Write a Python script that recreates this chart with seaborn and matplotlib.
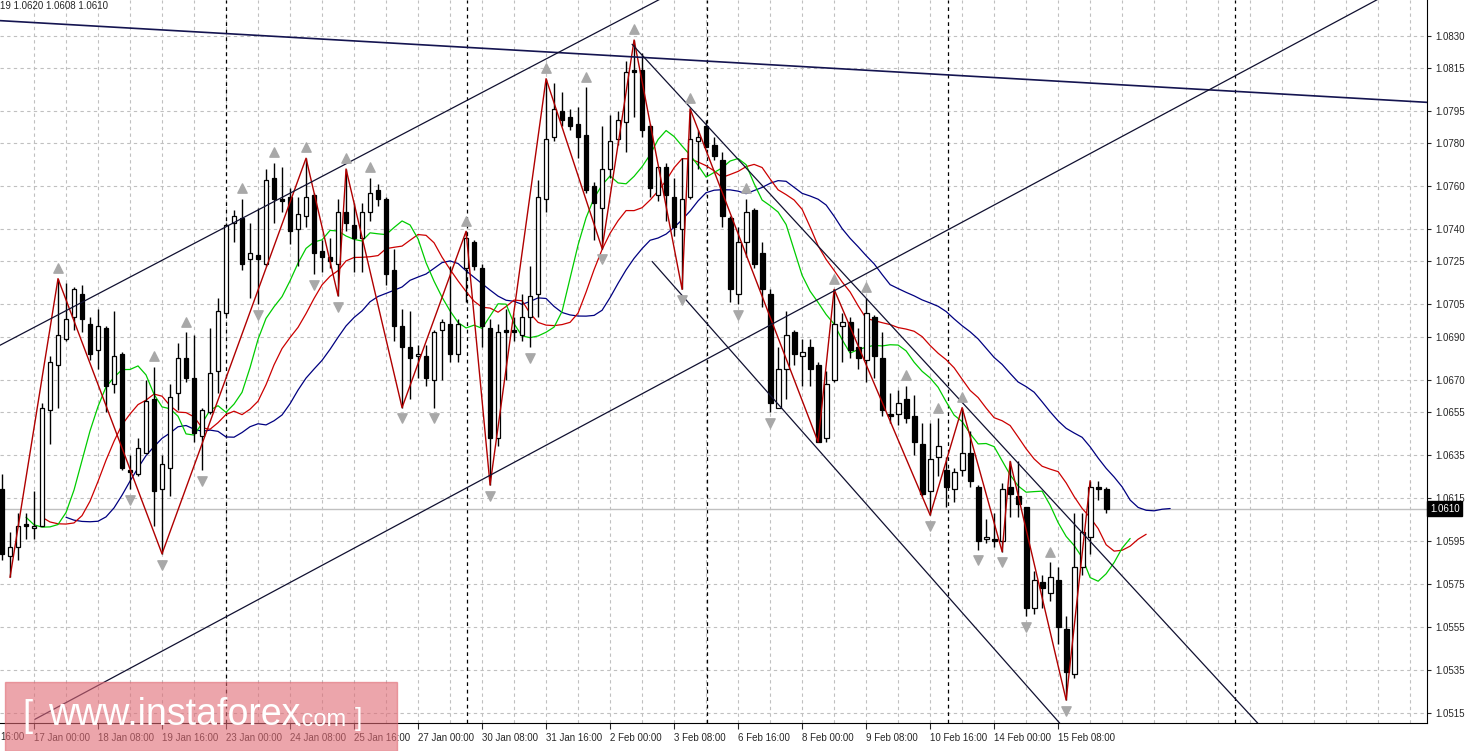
import matplotlib
matplotlib.use("Agg")
import matplotlib.pyplot as plt
import numpy as np
import pandas as pd
import seaborn as sns

# EURUSD H4 candles (bar 0 .. 138)
opens = [1.0619, 1.0588, 1.0592, 1.0603, 1.0601, 1.0602, 1.0656, 1.0677, 1.0689, 1.0699,
         1.0710, 1.0696, 1.0684, 1.0694, 1.0668, 1.0682, 1.0628, 1.0626, 1.0636, 1.0661,
         1.0619, 1.0629, 1.0664, 1.0680, 1.0671, 1.0644, 1.0655, 1.0674, 1.0701, 1.0743,
         1.0745, 1.0726, 1.0728, 1.0724, 1.0764, 1.0754, 1.0755, 1.0740, 1.0746, 1.0756,
         1.0730, 1.0727, 1.0724, 1.0748, 1.0742, 1.0736, 1.0748, 1.0758, 1.0754, 1.0721,
         1.0695, 1.0685, 1.0681, 1.0681, 1.0670, 1.0693, 1.0696, 1.0682, 1.0722, 1.0734,
         1.0722, 1.0694, 1.0643, 1.0693, 1.0693, 1.0691, 1.0699, 1.0710, 1.0754, 1.0783,
         1.0795, 1.0792, 1.0789, 1.0784, 1.0760, 1.0750, 1.0768, 1.0782, 1.0790, 1.0814,
         1.0814, 1.0788, 1.0756, 1.0769, 1.0755, 1.0740, 1.0755, 1.0781, 1.0788, 1.0779,
         1.0772, 1.0745, 1.0710, 1.0734, 1.0749, 1.0729, 1.0710, 1.0657, 1.0675, 1.0692,
         1.0681, 1.0685, 1.0677, 1.0643, 1.0670, 1.0695, 1.0697, 1.0685, 1.0679, 1.0699,
         1.0680, 1.0654, 1.0654, 1.0661, 1.0653, 1.0640, 1.0618, 1.0634, 1.0628, 1.0619,
         1.0628, 1.0636, 1.0620, 1.0596, 1.0596, 1.0595, 1.0620, 1.0616, 1.0611, 1.0564,
         1.0576, 1.0571, 1.0577, 1.0554, 1.0533, 1.0583, 1.0597, 1.0620, 1.0619]
highs = [1.0626, 1.0599, 1.0608, 1.0608, 1.0618, 1.0659, 1.0681, 1.0717, 1.0715, 1.0713,
         1.0714, 1.0699, 1.0703, 1.0695, 1.0702, 1.0683, 1.0635, 1.0643, 1.0670, 1.0676,
         1.0635, 1.0668, 1.0687, 1.0692, 1.0691, 1.0657, 1.0694, 1.0708, 1.0743, 1.0749,
         1.0754, 1.0743, 1.0750, 1.0768, 1.0771, 1.0769, 1.0759, 1.0755, 1.0773, 1.0757,
         1.0735, 1.0736, 1.0754, 1.0768, 1.0752, 1.0752, 1.0764, 1.0761, 1.0755, 1.0731,
         1.0703, 1.0702, 1.0686, 1.0686, 1.0693, 1.0698, 1.0723, 1.0698, 1.0739, 1.0735,
         1.0724, 1.0698, 1.0696, 1.0703, 1.0699, 1.0710, 1.0723, 1.0763, 1.0810, 1.0808,
         1.0804, 1.0796, 1.0797, 1.0806, 1.0762, 1.0788, 1.0793, 1.0795, 1.0818, 1.0828,
         1.0822, 1.0789, 1.0769, 1.0771, 1.0764, 1.0773, 1.0796, 1.0786, 1.0791, 1.0783,
         1.0776, 1.0746, 1.0741, 1.0754, 1.0750, 1.0734, 1.0712, 1.0685, 1.0702, 1.0693,
         1.0689, 1.0689, 1.0678, 1.0674, 1.0712, 1.0701, 1.0699, 1.0694, 1.0708, 1.0700,
         1.0692, 1.0664, 1.0665, 1.0667, 1.0663, 1.0650, 1.0650, 1.0652, 1.0634, 1.0629,
         1.0657, 1.0646, 1.0621, 1.0605, 1.0608, 1.0622, 1.0632, 1.0632, 1.0611, 1.0581,
         1.0579, 1.0585, 1.0583, 1.0560, 1.0608, 1.0608, 1.0623, 1.0623, 1.0620]
lows = [1.0586, 1.0578, 1.0586, 1.0596, 1.0596, 1.0602, 1.0640, 1.0657, 1.0688, 1.0693,
        1.0692, 1.0679, 1.0675, 1.0655, 1.0664, 1.0628, 1.0619, 1.0625, 1.0636, 1.0602,
        1.0589, 1.0616, 1.0656, 1.0669, 1.0641, 1.0628, 1.0654, 1.0664, 1.0700, 1.0734,
        1.0721, 1.0708, 1.0705, 1.0723, 1.0743, 1.0748, 1.0733, 1.0723, 1.0741, 1.0719,
        1.0720, 1.0722, 1.0709, 1.0739, 1.0720, 1.0720, 1.0744, 1.0751, 1.0714, 1.0688,
        1.0657, 1.0661, 1.0671, 1.0667, 1.0657, 1.0670, 1.0678, 1.0678, 1.0706, 1.0721,
        1.0685, 1.0621, 1.0639, 1.0670, 1.0688, 1.0688, 1.0685, 1.0699, 1.0748, 1.0781,
        1.0788, 1.0786, 1.0773, 1.0757, 1.0735, 1.0731, 1.0764, 1.0779, 1.0776, 1.0792,
        1.0783, 1.0755, 1.0753, 1.0744, 1.0737, 1.0712, 1.0754, 1.0768, 1.0778, 1.0772,
        1.0741, 1.0706, 1.0705, 1.0727, 1.0722, 1.0704, 1.0655, 1.0657, 1.0661, 1.0677,
        1.0667, 1.0667, 1.0641, 1.0641, 1.0669, 1.0678, 1.0680, 1.0675, 1.0669, 1.0671,
        1.0653, 1.0650, 1.0649, 1.0650, 1.0635, 1.0616, 1.0607, 1.0625, 1.0611, 1.0613,
        1.0625, 1.0620, 1.0591, 1.0594, 1.0592, 1.0590, 1.0606, 1.0606, 1.0560, 1.0561,
        1.0564, 1.0567, 1.0547, 1.0521, 1.0531, 1.0579, 1.0589, 1.0614, 1.0608]
closes = [1.0589, 1.0592, 1.0602, 1.0602, 1.0602, 1.0657, 1.0678, 1.0691, 1.0698, 1.0712,
          1.0698, 1.0682, 1.0695, 1.0667, 1.0681, 1.0629, 1.0627, 1.0638, 1.0660, 1.0618,
          1.0631, 1.0662, 1.0680, 1.0671, 1.0645, 1.0656, 1.0673, 1.0702, 1.0742, 1.0746,
          1.0724, 1.0729, 1.0726, 1.0763, 1.0754, 1.0753, 1.0739, 1.0747, 1.0755, 1.0729,
          1.0727, 1.0725, 1.0748, 1.0743, 1.0736, 1.0748, 1.0757, 1.0754, 1.0719, 1.0695,
          1.0685, 1.0680, 1.0682, 1.0671, 1.0692, 1.0697, 1.0682, 1.0696, 1.0736, 1.0723,
          1.0695, 1.0643, 1.0692, 1.0692, 1.0692, 1.0699, 1.0709, 1.0755, 1.0782, 1.0796,
          1.0791, 1.0788, 1.0783, 1.0758, 1.0752, 1.0768, 1.0781, 1.0791, 1.0813, 1.0813,
          1.0786, 1.0759, 1.0769, 1.0756, 1.0741, 1.0754, 1.0782, 1.0783, 1.0778, 1.0774,
          1.0746, 1.0712, 1.0734, 1.0748, 1.0724, 1.0712, 1.0659, 1.0675, 1.0691, 1.0682,
          1.0683, 1.0675, 1.0641, 1.0668, 1.0696, 1.0697, 1.0684, 1.0680, 1.0701, 1.0681,
          1.0656, 1.0653, 1.0659, 1.0652, 1.0641, 1.0617, 1.0633, 1.0639, 1.0620, 1.0627,
          1.0636, 1.0623, 1.0595, 1.0597, 1.0595, 1.0619, 1.0617, 1.0612, 1.0564, 1.0577,
          1.0573, 1.0578, 1.0555, 1.0534, 1.0583, 1.0599, 1.0620, 1.0619, 1.0610]

# zigzag turning bars, starting with a low
zigzag_bars = [1, 7, 20, 38, 42, 43, 50, 58, 61, 68, 75, 79, 85, 86, 102, 104,
               116, 120, 125, 126, 133, 136]

# trend lines: (bar, price) pairs
trend_lines = {
    "long_top": [(-0.25, 1.0837), (178.1, 1.0799)],
    "up_top": [(-0.25, 1.0686), (82.25, 1.0847)],
    "up_bottom": [(4.1, 1.0512), (172.0, 1.0847)],
    "down_top": [(78.75, 1.0826), (157.0, 1.0510)],
    "down_bottom": [(81.25, 1.0725), (132.25, 1.0510)],
}
week_lines = [28, 58.1, 88.1, 118.25, 154.1]

date_bars = list(range(4, 133, 8))
date_labels = ["17 Jan 00:00", "18 Jan 08:00", "19 Jan 16:00", "23 Jan 00:00",
               "24 Jan 08:00", "25 Jan 16:00", "27 Jan 00:00", "30 Jan 08:00",
               "31 Jan 16:00", "2 Feb 00:00", "3 Feb 08:00", "6 Feb 16:00",
               "8 Feb 00:00", "9 Feb 08:00", "10 Feb 16:00", "14 Feb 00:00",
               "15 Feb 08:00"]
price_labels = ["1.0830", "1.0815", "1.0795", "1.0780", "1.0760", "1.0740", "1.0725",
                "1.0705", "1.0690", "1.0670", "1.0655", "1.0635", "1.0615", "1.0595",
                "1.0575", "1.0555", "1.0535", "1.0515"]
price_levels = [float(s) for s in price_labels]
last_price = 1.0610

df = pd.DataFrame({"open": opens, "high": highs, "low": lows, "close": closes})
df["bar"] = np.arange(len(df))

sns.set_style("white")
plt.rcParams["font.family"] = ["Liberation Sans", "DejaVu Sans"]
FS = 7

fig = plt.figure(figsize=(14.69, 7.51), dpi=100)
ax = fig.add_axes([0, 28 / 751, 1427 / 1469, 723 / 751])
ax.set_xlim(-0.25, 178.1)
ax.set_ylim(1.05103, 1.08466)

# grid
for b in range(4, 179, 4):
    ax.axvline(b, color="#c0c0c0", lw=0.8, ls=(0, (3, 3)), zorder=0)
for p in price_levels:
    ax.axhline(p, color="#c0c0c0", lw=0.8, ls=(0, (3, 3)), zorder=0)
for b in week_lines:
    ax.axvline(b, color="black", lw=0.9, ls=(0, (3, 3)), zorder=1)
ax.axhline(last_price, color="#c0c0c0", lw=1, zorder=1)

# alligator (smoothed MAs of median price, shifted forward)
median = (df["high"] + df["low"]) / 2
for period, shift, col in [(13, 8, "#000080"), (8, 5, "#cc0000"), (5, 3, "#00cc00")]:
    smma = median.ewm(alpha=1 / period, adjust=False).mean()
    sns.lineplot(x=df["bar"] + shift, y=smma, color=col, lw=0.9, ax=ax, zorder=2)

# candles
up = df[df["close"] >= df["open"]]
dn = df[df["close"] < df["open"]]
ax.vlines(df["bar"], df["low"], df["high"], color="black", lw=1, zorder=3)
ax.bar(up["bar"], up["close"] - up["open"], bottom=up["open"], width=0.6,
       color="white", edgecolor="black", lw=0.9, zorder=4)
ax.bar(dn["bar"], dn["open"] - dn["close"], bottom=dn["close"], width=0.6,
       color="black", edgecolor="black", lw=0.9, zorder=4)

# zigzag
zz_price = [df["low"][b] if k % 2 == 0 else df["high"][b] for k, b in enumerate(zigzag_bars)]
sns.lineplot(x=zigzag_bars, y=zz_price, color="#b00000", lw=1, ax=ax, zorder=5)

# fractals
fh, fl = [], []
h = df["high"]
l = df["low"]
for i in range(2, len(df) - 2):
    if h[i] > max(h[i - 2], h[i - 1], h[i + 1], h[i + 2]):
        fh.append(i)
    if l[i] < min(l[i - 2], l[i - 1], l[i + 1], l[i + 2]):
        fl.append(i)
ax.scatter(fh, h[fh] + 0.0005, marker="^", s=45, color="#a8a8a8", zorder=6)
ax.scatter(fl, l[fl] - 0.0005, marker="v", s=45, color="#a8a8a8", zorder=6)

# trend lines
for name, pts in trend_lines.items():
    (x0, y0), (x1, y1) = pts
    col = "#141450" if name == "long_top" else "#101030"
    lw = 1.2 if name == "long_top" else 0.9
    ax.plot([x0, x1], [y0, y1], color=col, lw=lw, zorder=5)

# axes styling
for s in ["left", "top"]:
    ax.spines[s].set_visible(False)
ax.spines["right"].set_color("black")
ax.spines["bottom"].set_color("black")
ax.yaxis.tick_right()
ax.set_yticks(price_levels)
ax.set_yticklabels(price_labels, fontsize=FS)
ax.tick_params(axis="y", length=3, pad=3, right=True)
ax.set_xticks(date_bars)
ax.set_xticklabels(date_labels, fontsize=FS, ha="left")
ax.tick_params(axis="x", length=4, pad=3, bottom=True)
ax.set_xlabel("")
ax.set_ylabel("")
fig.text(0.0, 14 / 751, "16:00", fontsize=FS, va="center", ha="left")

# current price tag
ax.text(1.002, last_price, "1.0610", transform=ax.get_yaxis_transform(), fontsize=FS,
        color="white", va="center", ha="left",
        bbox=dict(boxstyle="square,pad=0.25", fc="black", ec="black"))

# header
fig.text(0.0, 1 - 6 / 751, "19 1.0620 1.0608 1.0610", fontsize=FS, va="center", ha="left")

# watermark
fig.patches.append(plt.Rectangle((5 / 1469, 0), 392 / 1469, 69 / 751,
                                 transform=fig.transFigure, color="#e06a74", alpha=0.6,
                                 zorder=10))
fig.text(22 / 1469, 34 / 751, "[", fontsize=26, color="white", va="center",
         ha="left", zorder=11)
fig.text(48 / 1469, 36 / 751, "www.instaforex", fontsize=27, color="white",
         va="center", ha="left", zorder=11)
fig.text(296 / 1469, 31 / 751, ".com", fontsize=17, color="white", va="center",
         ha="left", zorder=11)
fig.text(355 / 1469, 32 / 751, "]", fontsize=19, color="white", va="center",
         ha="left", zorder=11)

fig.savefig("out.png", dpi=100)
